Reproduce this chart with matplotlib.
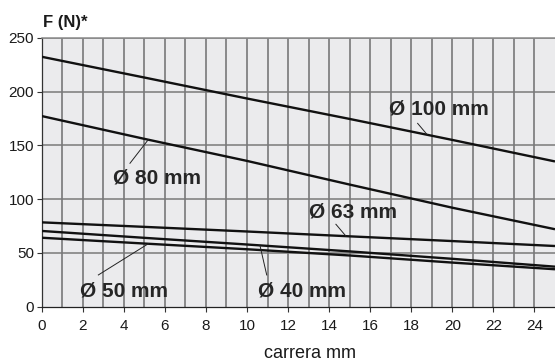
import numpy as np
import matplotlib
matplotlib.use("Agg")
import matplotlib.pyplot as plt

plt.rcParams['font.family'] = ['Liberation Sans', 'DejaVu Sans']

# stroke (mm) and force (N) for each bore size
stroke = [0, 5, 10, 15, 20, 25]
f_100 = [232.3, 213.0, 193.5, 174.5, 155.0, 135.0]
f_80 = [177.2, 156.0, 135.5, 113.5, 92.0, 72.0]
f_63 = [78.4, 74.2, 69.9, 65.4, 61.0, 56.4]
f_40 = [70.4, 64.0, 57.8, 51.4, 44.5, 37.2]
f_50 = [64.1, 58.7, 53.4, 47.6, 41.0, 34.8]

x_ticks = list(range(0, 25, 2))
y_ticks = [0, 50, 100, 150, 200, 250]

# label text, label centre, leader start, stroke where the leader meets the curve
labels = [
    ("Ø 100 mm", f_100, (19.35, 183.6), (18.31, 170.4), 18.78),
    ("Ø 80 mm", f_80, (5.64, 119.6), (4.30, 133.3), 5.19),
    ("Ø 63 mm", f_63, (15.16, 88.3), (14.33, 76.6), 14.82),
    ("Ø 50 mm", f_50, (4.03, 14.9), (2.76, 29.5), 5.19),
    ("Ø 40 mm", f_40, (12.68, 14.9), (10.96, 29.5), 10.63),
]

fig = plt.figure(figsize=(5.55, 3.63), dpi=100)
ax = fig.add_axes([0.0751, 0.1551, 0.9249, 0.7410])
ax.set_facecolor('#ebebed')

ax.set_xlim(0, 25)
ax.set_ylim(0, 250)

# grid: every 1 mm vertically, every 50 N horizontally
for xv in range(1, 25):
    ax.axvline(xv, color='#6f6f6f', lw=1.1, zorder=1)
for yv in y_ticks[1:]:
    ax.axhline(yv, color='#7a7a7a', lw=1.1, zorder=1)

for series in (f_100, f_80, f_63, f_40, f_50):
    ax.plot(stroke, series, color='#111111', lw=1.7, zorder=3,
            solid_capstyle='butt')

for text, series, centre, lead, xs in labels:
    ys = np.interp(xs, stroke, series)
    ax.plot([lead[0], xs], [lead[1], ys], color='#222222', lw=0.7, zorder=3)
    ax.text(centre[0], centre[1], text, ha='center', va='center',
            fontsize=15, fontweight='bold', color='#262626', zorder=4)

ax.set_xticks(x_ticks)
ax.set_yticks(y_ticks)
ax.tick_params(axis='both', labelsize=11, colors='#333333', length=3.5,
               width=0.8, labelcolor='#1a1a1a')
ax.tick_params(axis='x', pad=5)
ax.tick_params(axis='y', pad=2)

for side in ('right',):
    ax.spines[side].set_visible(False)
ax.spines['top'].set_color('#8a8a8a')
ax.spines['top'].set_linewidth(1.1)
ax.spines['left'].set_color('#333333')
ax.spines['bottom'].set_color('#222222')
ax.spines['left'].set_linewidth(0.9)
ax.spines['bottom'].set_linewidth(0.9)

fig.text(43 / 555, 1 - 22 / 363, "F (N)*", ha='left', va='center',
         fontsize=12, fontweight='bold', color='#1a1a1a')
fig.text(309.5 / 555, 1 - 354 / 363, "carrera mm", ha='center', va='center',
         fontsize=13, color='#1a1a1a')

fig.savefig('out.png', dpi=100)
